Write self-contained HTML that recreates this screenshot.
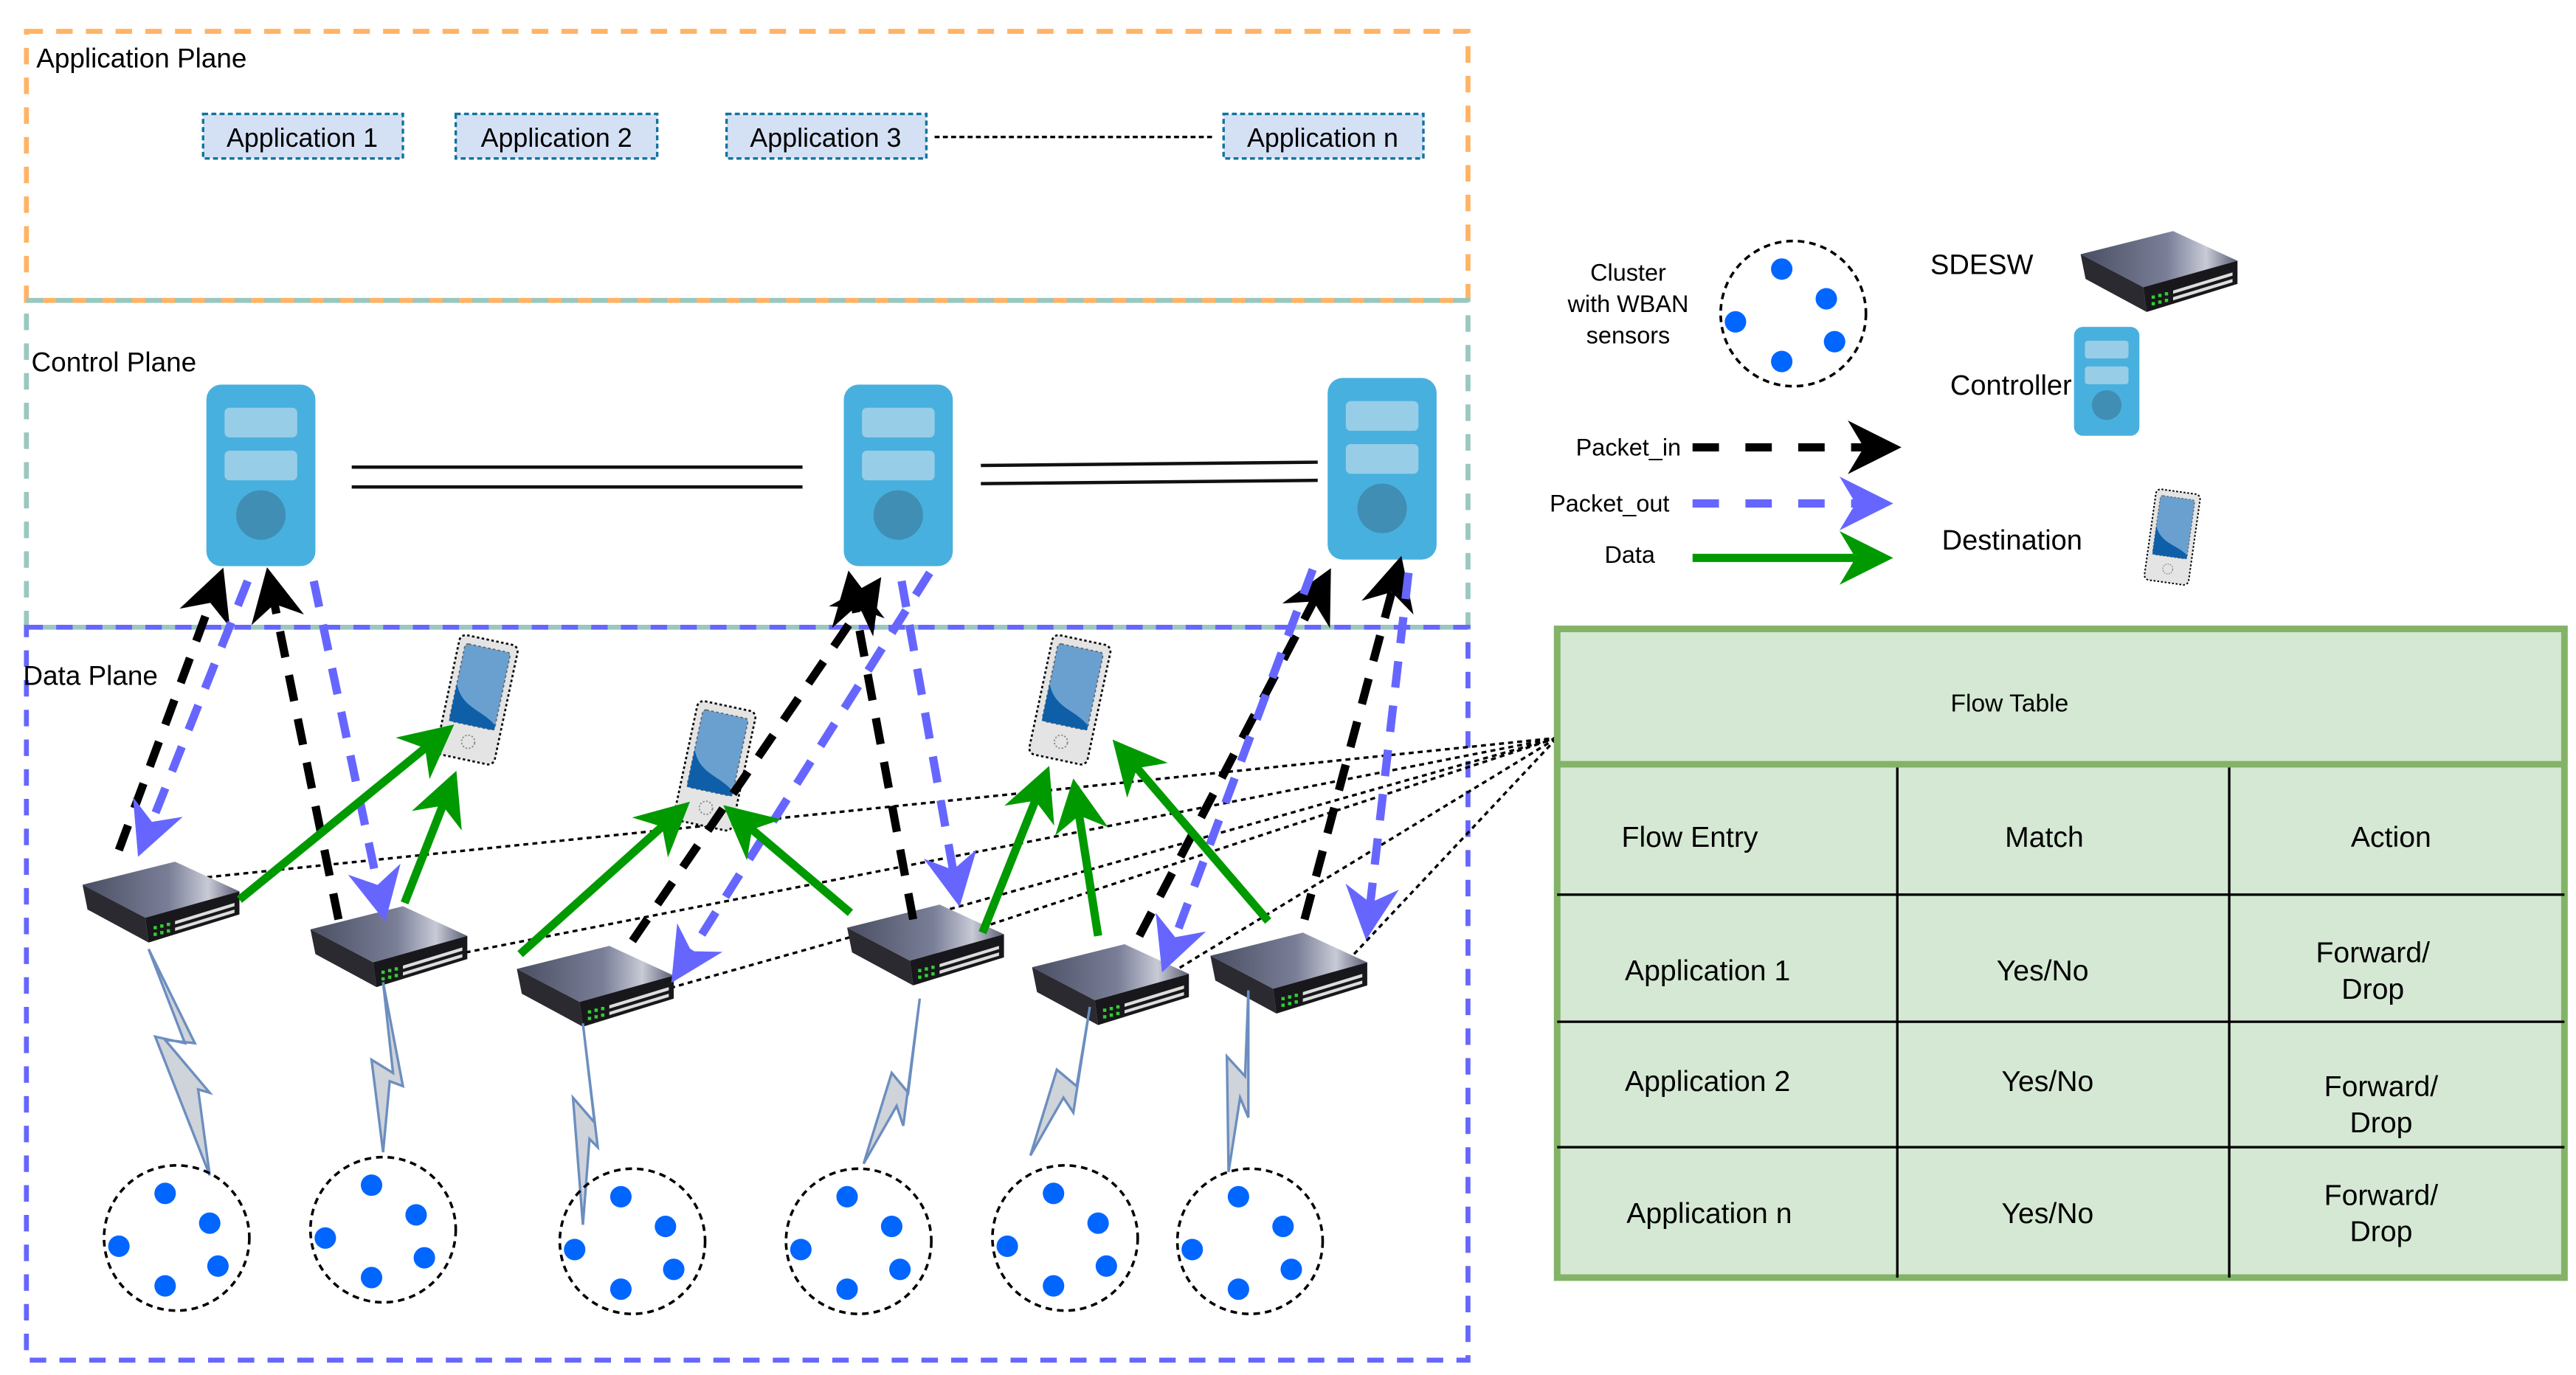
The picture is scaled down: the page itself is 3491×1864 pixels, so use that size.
<!DOCTYPE html>
<html><head><meta charset="utf-8"><style>
html,body{margin:0;padding:0;background:#fff;}
svg{display:block;}
text{font-family:"Liberation Sans",sans-serif;fill:#000;}
</style></head><body>
<svg width="3491" height="1864" viewBox="0 0 1560 833" preserveAspectRatio="none" xmlns="http://www.w3.org/2000/svg">
<defs>
<linearGradient id="sg" x1="0" y1="0" x2="1" y2="0">
<stop offset="0" stop-color="#4a4e62"/><stop offset="0.55" stop-color="#7a7f98"/><stop offset="0.8" stop-color="#c8cad6"/><stop offset="1" stop-color="#5b5f74"/>
</linearGradient>
<g id="sw">
<polygon points="0,18 56,4 95,22 38,38" fill="url(#sg)"/>
<polygon points="0,18 38,38 40,53 3,33" fill="#2a2a30"/>
<polygon points="38,38 95,22 95,36 40,53" fill="#18181c"/>
<g fill="#3c3"><rect x="43" y="43" width="2" height="2"/><rect x="47" y="42" width="2" height="2"/><rect x="51" y="41" width="2" height="2"/><rect x="43" y="47" width="2" height="2"/><rect x="47" y="46" width="2" height="2"/><rect x="51" y="45" width="2" height="2"/></g>
<g fill="#ddd"><polygon points="56,40 92,29 92,31 56,42"/><polygon points="56,44 92,33 92,35 56,46"/></g>
</g>
<g id="ph">
<rect x="0" y="0" width="36" height="74" rx="4" fill="#e4e4e4" stroke="#000" stroke-width="1.2" stroke-dasharray="1.5,1.5"/>
<rect x="4" y="5" width="28" height="48" rx="2" fill="#6aa0d0" stroke="#666" stroke-width="0.8" stroke-dasharray="1.5,1.5"/>
<path d="M4,30 C10,44 22,42 32,50 L32,53 L4,53 Z" fill="#0f5fa8"/>
<circle cx="18" cy="63" r="4" fill="none" stroke="#888" stroke-width="0.8" stroke-dasharray="1,1"/>
</g>
<g id="ctl">
<rect x="0" y="0" width="66" height="110" rx="9" fill="#48b0de"/>
<rect x="11" y="14" width="44" height="18" rx="3" fill="#97cde6"/>
<rect x="11" y="40" width="44" height="18" rx="3" fill="#97cde6"/>
<ellipse cx="33" cy="79" rx="15" ry="15" fill="#408eb4"/>
</g>
<g id="cl">
<circle cx="0" cy="0" r="44" fill="none" stroke="#000" stroke-width="1.6" stroke-dasharray="4,3"/>
<g fill="#0066ff"><circle cx="-7" cy="-27" r="6.5"/><circle cx="20" cy="-9" r="6.5"/><circle cx="-35" cy="5" r="6.5"/><circle cx="25" cy="17" r="6.5"/><circle cx="-7" cy="29" r="6.5"/></g>
</g>
<marker id="ab" viewBox="0 0 10 10" refX="8" refY="5" markerWidth="6.5" markerHeight="6.5" orient="auto" markerUnits="strokeWidth"><path d="M0,0 L10,5 L0,10 L3,5 Z" fill="#000"/></marker>
<marker id="au" viewBox="0 0 10 10" refX="8" refY="5" markerWidth="6.5" markerHeight="6.5" orient="auto" markerUnits="strokeWidth"><path d="M0,0 L10,5 L0,10 L3,5 Z" fill="#6666ff"/></marker>
<marker id="ag" viewBox="0 0 10 10" refX="8" refY="5" markerWidth="6.5" markerHeight="6.5" orient="auto" markerUnits="strokeWidth"><path d="M0,0 L10,5 L0,10 L3,5 Z" fill="#009900"/></marker>
</defs>

<rect x="16" y="19" width="873" height="163" fill="none" stroke="#ffb366" stroke-width="3" stroke-dasharray="10,8"/>
<rect x="16" y="182" width="873" height="198" fill="none" stroke="#9ac7bf" stroke-width="3" stroke-dasharray="10,8"/>
<rect x="16" y="380" width="873" height="444" fill="none" stroke="#6666ff" stroke-width="3" stroke-dasharray="10,8"/>
<text x="22" y="41" font-size="16.5">Application Plane</text>
<text x="19" y="225" font-size="16.5">Control Plane</text>
<text x="14" y="415" font-size="16.5">Data Plane</text>

<g fill="#d4e1f5" stroke="#10739e" stroke-width="1.5" stroke-dasharray="3,2">
<rect x="123" y="69" width="121" height="27"/><rect x="276" y="69" width="122" height="27"/><rect x="440" y="69" width="121" height="27"/><rect x="741" y="69" width="121" height="27"/>
</g>
<g font-size="16" text-anchor="middle">
<text x="183" y="89">Application 1</text><text x="337" y="89">Application 2</text><text x="500" y="89">Application 3</text><text x="801" y="89">Application n</text>
</g>
<line x1="566" y1="83" x2="734" y2="83" stroke="#000" stroke-width="1.5" stroke-dasharray="3,2"/>

<use href="#ctl" x="125" y="233"/>
<use href="#ctl" x="511" y="233"/>
<use href="#ctl" x="804" y="229"/>
<g stroke="#111" stroke-width="2">
<line x1="213" y1="283" x2="486" y2="283"/><line x1="213" y1="295" x2="486" y2="295"/>
<line x1="594" y1="282" x2="798" y2="280"/><line x1="594" y1="293" x2="798" y2="291"/>
</g>

<g stroke="#000" stroke-width="1.5" stroke-dasharray="3,2.5" fill="none">
<line x1="120" y1="532" x2="943" y2="447"/>
<line x1="282" y1="577" x2="943" y2="447"/>
<line x1="390" y1="603" x2="943" y2="447"/>
<line x1="600" y1="560" x2="943" y2="447"/>
<line x1="705" y1="592" x2="943" y2="447"/>
<line x1="820" y1="578" x2="943" y2="447"/>
</g>

<use href="#sw" x="50" y="518"/>
<use href="#sw" x="188" y="545"/>
<use href="#sw" x="313" y="569"/>
<use href="#sw" x="513" y="544"/>
<use href="#sw" x="625" y="568"/>
<use href="#sw" x="733" y="561"/>

<use href="#ph" transform="translate(279,384) rotate(12)"/>
<use href="#ph" transform="translate(423,424) rotate(12)"/>
<use href="#ph" transform="translate(638,384) rotate(12)"/>

<g stroke="#000" stroke-width="5" stroke-dasharray="16,11" fill="none" marker-end="url(#ab)">
<line x1="72" y1="515" x2="133" y2="350"/>
<line x1="205" y1="557" x2="163" y2="350"/>
<line x1="383" y1="570" x2="530" y2="355"/>
<line x1="553" y1="557" x2="515" y2="352"/>
<line x1="690" y1="567" x2="803" y2="350"/>
<line x1="790" y1="557" x2="847" y2="343"/>
</g>
<g stroke="#6666ff" stroke-width="5" stroke-dasharray="16,11" fill="none" marker-end="url(#au)">
<line x1="150" y1="352" x2="86" y2="513"/>
<line x1="190" y1="352" x2="232" y2="552"/>
<line x1="563" y1="347" x2="410" y2="590"/>
<line x1="546" y1="352" x2="580" y2="543"/>
<line x1="795" y1="345" x2="706" y2="583"/>
<line x1="853" y1="347" x2="828" y2="563"/>
</g>
<g stroke="#009900" stroke-width="5" fill="none" marker-end="url(#ag)">
<line x1="145" y1="545" x2="270" y2="443"/>
<line x1="245" y1="547" x2="274" y2="473"/>
<line x1="315" y1="578" x2="413" y2="490"/>
<line x1="515" y1="553" x2="443" y2="492"/>
<line x1="595" y1="565" x2="633" y2="470"/>
<line x1="665" y1="567" x2="651" y2="478"/>
<line x1="768" y1="558" x2="678" y2="453"/>
</g>

<g fill="#cfd3da" stroke="#6c8ebf" stroke-width="1.5" stroke-linejoin="miter">
<polygon points="90,575 112,632 94,628 127,712 120,660 127,662 100,630 118,632"/>
<polygon points="232,595 238,650 225,642 232,698 236,655 244,658"/>
<polygon points="353,620 360,680 347,665 353,742 357,690 362,695"/>
<polygon points="557,605 550,662 540,650 523,705 543,670 547,682"/>
<polygon points="660,610 652,658 640,648 624,700 644,665 650,674"/>
<polygon points="756,600 754,652 743,640 744,710 751,665 756,677"/>
</g>

<use href="#cl" x="107" y="750"/>
<use href="#cl" x="232" y="745"/>
<use href="#cl" x="383" y="752"/>
<use href="#cl" x="520" y="752"/>
<use href="#cl" x="645" y="750"/>
<use href="#cl" x="757" y="752"/>

<g font-size="14.5" text-anchor="middle">
<text x="986" y="170">Cluster</text><text x="986" y="189">with WBAN</text><text x="986" y="208">sensors</text>
</g>
<use href="#cl" x="1086" y="190"/>
<text x="1169" y="166" font-size="17">SDESW</text>
<use href="#sw" x="1260" y="136"/>
<text x="1181" y="239" font-size="17">Controller</text>
<g transform="translate(1256,198) scale(0.6)"><use href="#ctl"/></g>
<text x="1018" y="276" font-size="14.5" text-anchor="end">Packet_in</text>
<text x="1011" y="310" font-size="14.5" text-anchor="end">Packet_out</text>
<text x="987" y="341" font-size="14.5" text-anchor="middle">Data</text>
<line x1="1025" y1="271" x2="1145" y2="271" stroke="#000" stroke-width="5" stroke-dasharray="16,16" marker-end="url(#ab)"/>
<line x1="1025" y1="305" x2="1140" y2="305" stroke="#6666ff" stroke-width="5" stroke-dasharray="16,16" marker-end="url(#au)"/>
<line x1="1025" y1="338" x2="1140" y2="338" stroke="#009900" stroke-width="5" marker-end="url(#ag)"/>
<text x="1176" y="333" font-size="17">Destination</text>
<g transform="translate(1306,296) rotate(8) scale(0.75)"><use href="#ph"/></g>

<rect x="943" y="381" width="610" height="393" fill="#d5e8d4" stroke="#82b366" stroke-width="4"/>
<line x1="943" y1="463" x2="1553" y2="463" stroke="#82b366" stroke-width="4"/>
<g stroke="#000" stroke-width="1.5">
<line x1="1149" y1="465" x2="1149" y2="774"/>
<line x1="1350" y1="465" x2="1350" y2="774"/>
<line x1="943" y1="542" x2="1553" y2="542"/>
<line x1="943" y1="619" x2="1553" y2="619"/>
<line x1="943" y1="695" x2="1553" y2="695"/>
</g>
<text x="1217" y="431" font-size="15" text-anchor="middle">Flow Table</text>
<g font-size="17.5">
<text x="982" y="513">Flow Entry</text>
<text x="1238" y="513" text-anchor="middle">Match</text>
<text x="1448" y="513" text-anchor="middle">Action</text>
<text x="984" y="594">Application 1</text>
<text x="984" y="661">Application 2</text>
<text x="985" y="741">Application n</text>
<text x="1237" y="594" text-anchor="middle">Yes/No</text>
<text x="1240" y="661" text-anchor="middle">Yes/No</text>
<text x="1240" y="741" text-anchor="middle">Yes/No</text>
<text x="1437" y="583" text-anchor="middle">Forward/</text><text x="1437" y="605" text-anchor="middle">Drop</text>
<text x="1442" y="664" text-anchor="middle">Forward/</text><text x="1442" y="686" text-anchor="middle">Drop</text>
<text x="1442" y="730" text-anchor="middle">Forward/</text><text x="1442" y="752" text-anchor="middle">Drop</text>
</g>
</svg>
</body></html>
